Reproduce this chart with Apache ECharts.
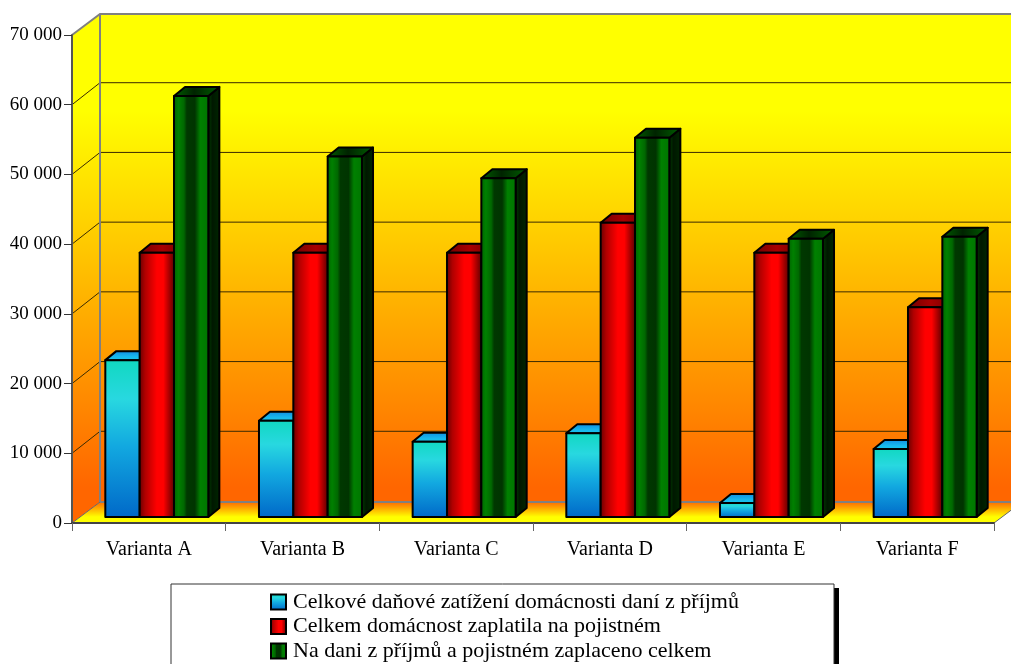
<!DOCTYPE html>
<html>
<head>
<meta charset="utf-8">
<style>
  html, body { margin: 0; padding: 0; background: #fff; overflow: hidden; }
  #chart { width: 1011px; height: 664px; }
</style>
</head>
<body>
<div id="chart"></div>
<script src="https://cdn.jsdelivr.net/npm/echarts@6/dist/echarts.min.js"></script>
<script>
const categories = ['Varianta A', 'Varianta B', 'Varianta C', 'Varianta D', 'Varianta E', 'Varianta F']
const tickValues = [0, 10000, 20000, 30000, 40000, 50000, 60000, 70000]
const tickLabels = ['0', '10 000', '20 000', '30 000', '40 000', '50 000', '60 000', '70 000']
const seriesNames = [
  'Celkové daňové zatížení domácnosti daní z příjmů',
  'Celkem domácnost zaplatila na pojistném',
  'Na dani z příjmů a pojistném zaplaceno celkem'
]
const taxValues = [22500, 13800, 10800, 12000, 2000, 9750]
const insuranceValues = [37900, 37900, 37900, 42200, 37900, 30100]
const totalValues = [60400, 51700, 48600, 54400, 39900, 40200]

const FONT = '"Liberation Serif", serif'
const LinearGradient = echarts.graphic.LinearGradient

// hloubka grafu a posun sloupcu od predni hrany
const DEPTH_X = 28, DEPTH_Y = 21
const GRID_DEPTH_Y = 22
const BAR_X = 8, BAR_Y = 6
const BAR_DEPTH_X = 11, BAR_DEPTH_Y = 9
const BAR_SHARE = 0.2235

const wallFill = () => new LinearGradient(0, 0, 0, 1, [
  { offset: 0, color: '#ffff00' },
  { offset: 0.19, color: '#ffff00' },
  { offset: 0.93, color: '#ff6600' },
  { offset: 1, color: '#ff6600' }
])

const faces = [
  {
    front: () => new LinearGradient(0, 0, 0, 1, [
      { offset: 0, color: '#10d8c0' },
      { offset: 0.25, color: '#28d8e0' },
      { offset: 0.55, color: '#12a8e0' },
      { offset: 1, color: '#0068c8' }
    ]),
    top: () => new LinearGradient(0, 0, 0, 1, [
      { offset: 0, color: '#1088e0' },
      { offset: 0.6, color: '#18b8ec' },
      { offset: 1, color: '#18c8e8' }
    ]),
    side: () => '#0060a0'
  },
  {
    front: () => new LinearGradient(0, 0, 1, 0, [
      { offset: 0, color: '#600000' },
      { offset: 0.18, color: '#b00000' },
      { offset: 0.5, color: '#ff0000' },
      { offset: 0.68, color: '#ff0000' },
      { offset: 1, color: '#500000' }
    ]),
    top: () => new LinearGradient(0, 0, 1, 0, [
      { offset: 0, color: '#700000' },
      { offset: 0.5, color: '#a80000' },
      { offset: 1, color: '#700000' }
    ]),
    side: () => '#500000'
  },
  {
    front: () => new LinearGradient(0, 0, 1, 0, [
      { offset: 0, color: '#006000' },
      { offset: 0.15, color: '#008000' },
      { offset: 0.3, color: '#006800' },
      { offset: 0.38, color: '#003800' },
      { offset: 0.6, color: '#003400' },
      { offset: 0.75, color: '#008000' },
      { offset: 0.92, color: '#007800' },
      { offset: 1, color: '#005000' }
    ]),
    top: () => new LinearGradient(0, 0, 1, 0, [
      { offset: 0, color: '#006000' },
      { offset: 0.45, color: '#002400' },
      { offset: 1, color: '#006000' }
    ]),
    side: () => new LinearGradient(0, 0, 1, 0, [
      { offset: 0, color: '#004000' },
      { offset: 0.4, color: '#001800' },
      { offset: 1, color: '#002800' }
    ])
  }
]

function renderWalls(params, api) {
  const cs = params.coordSys
  const x0 = cs.x, x1 = cs.x + cs.width
  const yTop = cs.y, yBottom = cs.y + cs.height
  const children = [
    { type: 'polygon', shape: { points: [[x0, yTop], [x0 + DEPTH_X, yTop - DEPTH_Y], [x1 + DEPTH_X, yTop - DEPTH_Y], [x1 + DEPTH_X, yBottom - DEPTH_Y], [x0 + DEPTH_X, yBottom - DEPTH_Y], [x0, yBottom]] }, style: { fill: wallFill() } },
    {
      type: 'polygon',
      shape: { points: [[x0, yBottom], [x0 + DEPTH_X, yBottom - DEPTH_Y], [x1 + DEPTH_X, yBottom - DEPTH_Y], [x1, yBottom]] },
      style: { fill: new LinearGradient(0, 0, 0, 1, [{ offset: 0, color: '#ff6600' }, { offset: 0.7, color: '#ffff00' }, { offset: 1, color: '#ffff00' }]), stroke: '#666', lineWidth: 1 }
    }
  ]
  tickValues.forEach((v) => {
    if (v === 0 || v === 70000) return
    const y = api.coord([0, v])[1]
    children.push({
      type: 'polyline',
      shape: { points: [[x0, y], [x0 + DEPTH_X, y - GRID_DEPTH_Y], [x1 + DEPTH_X, y - GRID_DEPTH_Y]] },
      style: { fill: null, stroke: '#3a2a00', lineWidth: 1 }
    })
  })
  children.push({
    type: 'polyline',
    shape: { points: [[x0, yTop], [x0 + DEPTH_X, yTop - DEPTH_Y], [x1 + DEPTH_X, yTop - DEPTH_Y]] },
    style: { fill: null, stroke: '#808080', lineWidth: 2 }
  })
  children.push({
    type: 'line',
    shape: { x1: x0 + DEPTH_X, y1: yTop - DEPTH_Y, x2: x0 + DEPTH_X, y2: yBottom - DEPTH_Y },
    style: { stroke: '#808080', lineWidth: 2 }
  })
  children.push({
    type: 'line',
    shape: { x1: x0 + DEPTH_X, y1: yBottom - DEPTH_Y, x2: x1 + DEPTH_X, y2: yBottom - DEPTH_Y },
    style: { stroke: '#808080', lineWidth: 2 }
  })
  return { type: 'group', children }
}

function makeBarRenderer(seriesIndex) {
  const face = faces[seriesIndex]
  return function (params, api) {
    const band = api.size([1, 0])[0]
    const w = band * BAR_SHARE
    const top = api.coord([api.value(0), api.value(1)])
    const base = api.coord([api.value(0), 0])
    const left = top[0] + BAR_X - 1.5 * w + seriesIndex * w
    const right = left + w
    const yt = top[1] - BAR_Y
    const yb = base[1] - BAR_Y
    const outline = { stroke: '#000', lineWidth: 2, lineJoin: 'round' }
    return {
      type: 'group',
      children: [
        { type: 'polygon', shape: { points: [[right, yt], [right + BAR_DEPTH_X, yt - BAR_DEPTH_Y], [right + BAR_DEPTH_X, yb - BAR_DEPTH_Y], [right, yb]] }, style: Object.assign({ fill: face.side() }, outline) },
        { type: 'polygon', shape: { points: [[left, yt], [left + BAR_DEPTH_X, yt - BAR_DEPTH_Y], [right + BAR_DEPTH_X, yt - BAR_DEPTH_Y], [right, yt]] }, style: Object.assign({ fill: face.top() }, outline) },
        { type: 'polygon', shape: { points: [[left, yt], [right, yt], [right, yb], [left, yb]] }, style: Object.assign({ fill: face.front() }, outline) }
      ]
    }
  }
}

const seriesValues = [taxValues, insuranceValues, totalValues]

const chart = echarts.init(document.getElementById('chart'), null, { renderer: 'canvas' })
chart.setOption({
  animation: false,
  backgroundColor: '#fff',
  textStyle: { fontFamily: FONT },
  grid: { left: 72, right: 17, top: 35, bottom: 141, containLabel: false },
  graphic: [
    { type: 'rect', z: 0, shape: { x: 175, y: 588, width: 664, height: 90 }, style: { fill: '#000' } },
    { type: 'rect', z: 1, shape: { x: 171, y: 584, width: 663, height: 90 }, style: { fill: '#fff', stroke: '#333', lineWidth: 1 } }
  ],
  legend: {
    data: seriesNames,
    orient: 'vertical',
    left: 270,
    top: 591,
    width: 600,
    height: 200,
    padding: 0,
    itemGap: 2.5,
    itemWidth: 15,
    itemHeight: 15,
    icon: 'rect',
    selectedMode: false,
    textStyle: { fontFamily: FONT, fontSize: 22, lineHeight: 20, color: '#000', padding: [0, 0, 0, 2] }
  },
  xAxis: {
    type: 'category',
    data: categories,
    axisLine: { lineStyle: { color: '#444', width: 2 } },
    axisTick: { show: true, length: 8, lineStyle: { color: '#666', width: 1 } },
    axisLabel: { fontFamily: FONT, fontSize: 20, color: '#000', margin: 17 },
    splitLine: { show: false },
    z: 10
  },
  yAxis: {
    type: 'value',
    min: 0,
    max: 70000,
    interval: 10000,
    axisLine: { show: true, lineStyle: { color: '#555', width: 2 } },
    axisTick: { show: true, length: 8, lineStyle: { color: '#333', width: 1 } },
    axisLabel: {
      fontFamily: FONT, fontSize: 19, color: '#000', margin: 10,
      formatter: (v) => tickLabels[tickValues.indexOf(v)]
    },
    splitLine: { show: false },
    z: 10
  },
  series: [
    { name: 'walls', type: 'custom', renderItem: renderWalls, data: [[0, 0]], silent: true, z: 1 }
  ].concat(seriesNames.map((name, i) => ({
    name: name,
    type: 'custom',
    renderItem: makeBarRenderer(i),
    encode: { x: 0, y: 1 },
    data: seriesValues[i].map((v, c) => [c, v]),
    itemStyle: { color: faces[i].front(), borderColor: '#000', borderWidth: 1.5 },
    z: 2 + i
  })))
})
</script>
</body>
</html>
